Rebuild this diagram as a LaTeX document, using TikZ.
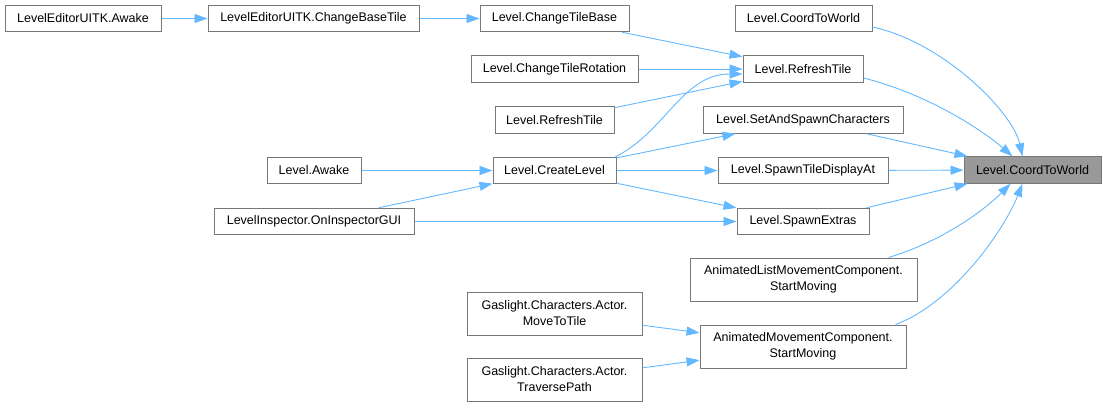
\documentclass[tikz,border=0pt]{standalone}
\usepackage{fontspec}
\setmainfont{Liberation Sans}
\usetikzlibrary{arrows.meta,calc}
\definecolor{edgeblue}{HTML}{63B8FF}
\definecolor{nodeborder}{HTML}{777777}
\definecolor{targetfill}{HTML}{999999}
\begin{document}
\begin{tikzpicture}[x=1pt,y=-1pt,
  box/.style={draw=nodeborder,line width=1pt,fill=white,inner sep=0pt,align=center,
    font=\fontsize{12.5}{16}\selectfont,minimum height=26.5pt},
  tallbox/.style={box,minimum height=43pt},
  target/.style={box,fill=targetfill},
  edge/.style={draw=edgeblue,line width=0.9pt,-{Triangle[length=13pt,width=9pt]}}]
\useasboundingbox (0,0) rectangle (1106,407);
% nodes
\node[box,minimum width=156pt] (lea) at (83,18.5) {LevelEditorUITK.Awake};
\node[box,minimum width=211pt] (lecbt) at (313.5,18.5) {LevelEditorUITK.ChangeBaseTile};
\node[box,minimum width=149pt] (ctb) at (554.5,18.5) {Level.ChangeTileBase};
\node[box,minimum width=137pt] (c2w) at (803.5,18.5) {Level.CoordToWorld};
\node[box,minimum width=167pt] (ctr) at (554.5,69) {Level.ChangeTileRotation};
\node[box,minimum width=120pt] (rt) at (803,69) {Level.RefreshTile};
\node[box,minimum width=119pt] (rtl) at (554.5,120) {Level.RefreshTile};
\node[box,minimum width=200pt] (ssc) at (803,120) {Level.SetAndSpawnCharacters};
\node[target,minimum width=137pt] (tgt) at (1032.5,170) {Level.CoordToWorld};
\node[box,minimum width=94pt] (la) at (314,170.5) {Level.Awake};
\node[box,minimum width=200pt] (li) at (314,221.5) {LevelInspector.OnInspectorGUI};
\node[box,minimum width=123pt] (cl) at (554.5,170.5) {Level.CreateLevel};
\node[box,minimum width=170pt] (stda) at (803,170.5) {Level.SpawnTileDisplayAt};
\node[box,minimum width=132pt] (se) at (803,221.5) {Level.SpawnExtras};
\node[tallbox,minimum width=227pt] (alm) at (803.5,279.5) {AnimatedListMovementComponent.\\StartMoving};
\node[tallbox,minimum width=206pt] (am) at (803,346.5) {AnimatedMovementComponent.\\StartMoving};
\node[tallbox,minimum width=175pt] (mtt) at (554.5,313.5) {Gaslight.Characters.Actor.\\MoveToTile};
\node[tallbox,minimum width=175pt] (tp) at (554.5,379.5) {Gaslight.Characters.Actor.\\TraversePath};
% edges
\draw[edge] (lea) -- (lecbt);
\draw[edge] (lecbt) -- (ctb);
\draw[edge] (ctb) -- (rt);
\draw[edge] (ctr) -- (rt);
\draw[edge] (rtl) -- (rt);
\draw[edge] ($(cl.north east)+(-1,0)$) .. controls +(50,-25) and +(-60,0) .. ($(rt.west)+(0,5)$);
\draw[edge] (cl) -- (ssc);
\draw[edge] (cl) -- (stda);
\draw[edge] (cl) -- (se);
\draw[edge] (la) -- (cl);
\draw[edge] (li) -- (cl);
\draw[edge] (li) -- (se);
\draw[edge] (mtt) -- (am);
\draw[edge] (tp) -- (am);
\draw[edge] ($(c2w.east)+(0,8.5)$) .. controls +(70,15) and +(-10,-45) .. ($(tgt.north)+(-10,0)$);
\draw[edge] ($(rt.east)+(0,9)$) .. controls +(60,15) and +(-35,-30) .. ($(tgt.north)+(-20,0)$);
\draw[edge] ($(ssc.south east)+(-37,0)$) -- ($(tgt.north west)+(4,0)$);
\draw[edge] (stda) -- (tgt);
\draw[edge] ($(se.north east)+(-3,0)$) -- ($(tgt.south west)+(4,0)$);
\draw[edge] ($(alm.north east)+(-29,0)$) .. controls +(50,-15) and +(-30,30) .. ($(tgt.south)+(-22,0)$);
\draw[edge] ($(am.north east)+(-11,0)$) .. controls +(55,-20) and +(-20,50) .. ($(tgt.south)+(-10,0)$);
\end{tikzpicture}
\end{document}
